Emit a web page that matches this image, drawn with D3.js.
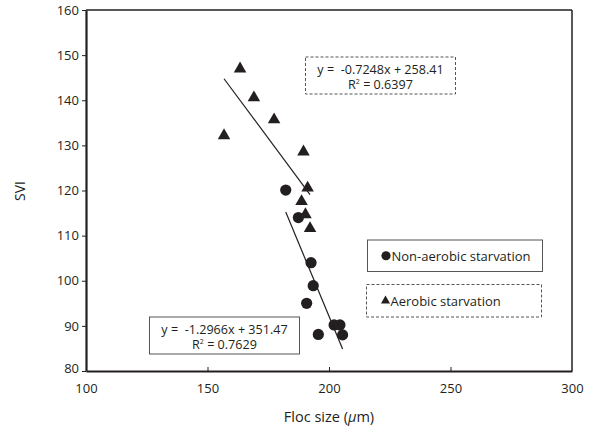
<!DOCTYPE html>
<html>
<head>
<meta charset="utf-8">
<script src="https://cdn.jsdelivr.net/npm/d3@7"></script>
<style>
  body { margin: 0; background: #fff; }
  svg text { font-family: "Open Sans", sans-serif; fill: #231f20; }
</style>
</head>
<body>
<svg width="590" height="432"></svg>
<script>
// Non-aerobic starvation (circles)
const nonAerobicX = [182.2, 187.4, 192.6, 193.5, 190.8, 195.6, 202.1, 204.5, 205.6];
const nonAerobicY = [120.1, 114.0, 104.0, 98.9, 95.0, 88.1, 90.2, 90.2, 88.0];
// Aerobic starvation (triangles)
const aerobicX = [163.4, 169.1, 177.4, 156.8, 189.5, 191.2, 188.7, 190.3, 192.2];
const aerobicY = [147.2, 140.8, 135.9, 132.4, 128.8, 120.8, 117.8, 114.9, 111.8];

// trend lines: slope, intercept
const nonAerobicFit = { slope: -1.2966, intercept: 351.47, label: "y =  -1.2966x + 351.47", r2: "0.7629" };
const aerobicFit = { slope: -0.7248, intercept: 258.41, label: "y =  -0.7248x + 258.41", r2: "0.6397" };

const xTicks = [100, 150, 200, 250, 300];
const yTicks = [80, 90, 100, 110, 120, 130, 140, 150, 160];

const svg = d3.select("svg");
const mLeft = 86, mRight = 572, mTop = 10, mBottom = 371;

const x = d3.scaleLinear().domain([100, 300]).range([mLeft, mRight]);
const y = d3.scaleLinear().domain([80, 160]).range([mBottom, mTop]);

// frame
svg.append("line").attr("x1", mLeft).attr("x2", mRight).attr("y1", mTop).attr("y2", mTop)
    .attr("stroke", "#231f20").attr("stroke-width", 1.5);
svg.append("line").attr("x1", mRight).attr("x2", mRight).attr("y1", mTop).attr("y2", mBottom)
    .attr("stroke", "#231f20").attr("stroke-width", 1.5);

// axes
const xAxis = svg.append("g")
    .attr("transform", `translate(0,${mBottom})`)
    .call(d3.axisBottom(x).tickValues(xTicks).tickSizeInner(-4).tickSizeOuter(0).tickPadding(10));
const yAxis = svg.append("g")
    .attr("transform", `translate(${mLeft},0)`)
    .call(d3.axisLeft(y).tickValues(yTicks).tickSizeInner(4).tickSizeOuter(0).tickPadding(3));

[xAxis, yAxis].forEach(a => {
    a.select(".domain").attr("stroke", "#231f20").attr("stroke-width", 2.2);
    a.selectAll(".tick line").attr("stroke", "#231f20").attr("stroke-width", 1);
    a.selectAll(".tick text").style("font-size", "13px").attr("fill", "#231f20")
        .style("font-family", "'Open Sans', sans-serif");
});
xAxis.selectAll(".tick text").attr("dy", "0.9em");
yAxis.selectAll(".tick").filter(d => d === 80).select("text").attr("dy", "0.15em");
xAxis.selectAll(".tick").filter(d => d === 100 || d === 300).select("line").remove();

// axis titles
svg.append("text")
    .attr("transform", `translate(25,191) rotate(-90)`)
    .attr("text-anchor", "middle")
    .style("font-size", "14px")
    .text("SVI");

const xt = svg.append("text")
    .attr("x", 329).attr("y", 422)
    .attr("text-anchor", "middle")
    .style("font-size", "14.5px");
xt.append("tspan").text("Floc size (");
xt.append("tspan").style("font-style", "italic").text("μ");
xt.append("tspan").text("m)");

// trend lines
function fitLine(xs, fit) {
    const x0 = d3.min(xs), x1 = d3.max(xs);
    svg.append("line")
        .attr("x1", x(x0)).attr("y1", y(fit.slope * x0 + fit.intercept))
        .attr("x2", x(x1)).attr("y2", y(fit.slope * x1 + fit.intercept))
        .attr("stroke", "#231f20").attr("stroke-width", 1.2);
}
fitLine(aerobicX, aerobicFit);
fitLine(nonAerobicX, nonAerobicFit);

// points
const circles = nonAerobicX.map((v, i) => [v, nonAerobicY[i]]);
const tris = aerobicX.map((v, i) => [v, aerobicY[i]]);

svg.append("g").selectAll("circle").data(circles).enter().append("circle")
    .attr("cx", d => x(d[0])).attr("cy", d => y(d[1])).attr("r", 5.6)
    .attr("fill", "#231f20");

const triSym = d3.symbol().type(d3.symbolTriangle).size(68);
svg.append("g").selectAll("path").data(tris).enter().append("path")
    .attr("d", triSym)
    .attr("transform", d => `translate(${x(d[0])},${y(d[1]) + 1})`)
    .attr("fill", "#231f20");

// equation boxes
function eqBox(bx, by, bw, bh, fit, dashed) {
    svg.append("rect").attr("x", bx).attr("y", by).attr("width", bw).attr("height", bh)
        .attr("fill", "#fff").attr("stroke", "#555").attr("stroke-width", 1)
        .attr("stroke-dasharray", dashed ? "3,2" : null);
    const cx = bx + bw / 2;
    svg.append("text").attr("x", cx).attr("y", by + 16.5).attr("text-anchor", "middle")
        .style("font-size", "12.6px").style("white-space", "pre").text(fit.label);
    const t = svg.append("text").attr("x", cx).attr("y", by + 32).attr("text-anchor", "middle")
        .style("font-size", "12.6px");
    t.append("tspan").text("R");
    t.append("tspan").attr("dy", "-5").style("font-size", "7px").text("2");
    t.append("tspan").attr("dy", "5").text(" = " + fit.r2);
}
eqBox(305.5, 57, 150, 37, aerobicFit, true);
eqBox(149.5, 317, 150, 37, nonAerobicFit, false);

// legend
function legendBox(bx, by, bw, bh, label, symbol, dashed) {
    svg.append("rect").attr("x", bx).attr("y", by).attr("width", bw).attr("height", bh)
        .attr("fill", "#fff").attr("stroke", "#555").attr("stroke-width", 1)
        .attr("stroke-dasharray", dashed ? "3,2" : null);
    const tx = bx + 26;
    if (symbol === "circle") {
        svg.append("circle").attr("cx", bx + 18.5).attr("cy", by + bh / 2).attr("r", 4.6).attr("fill", "#231f20");
    } else {
        svg.append("path").attr("d", d3.symbol().type(d3.symbolTriangle).size(36))
            .attr("transform", `translate(${bx + 19},${by + bh / 2})`).attr("fill", "#231f20");
    }
    svg.append("text").attr("x", tx - 2).attr("y", by + bh / 2 + 5)
        .style("font-size", "13px").text(label);
}
legendBox(367.5, 240, 175, 31.5, "Non-aerobic starvation", "circle", false);
legendBox(366.5, 284.5, 175, 32.5, "Aerobic starvation", "triangle", true);
</script>
</body>
</html>
